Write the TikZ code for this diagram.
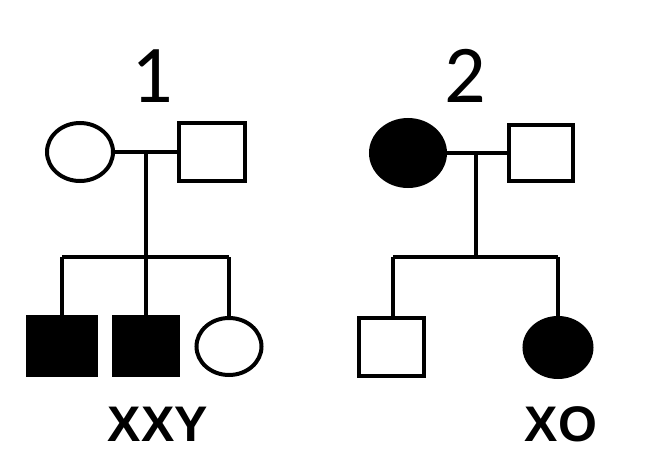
\documentclass[tikz,border=0pt]{standalone}
\usepackage{fontspec}
\setmainfont{Carlito}
\newfontfamily\karyfont{Liberation Sans}
\usetikzlibrary{shapes.geometric}
\begin{document}
\begin{tikzpicture}[x=1pt,y=-1pt,
  pline/.style={line width=4pt},
  male/.style={rectangle,draw,line width=4pt,inner sep=0pt,outer sep=0pt},
  female/.style={ellipse,draw,line width=4pt,inner sep=0pt,outer sep=0pt},
  aff/.style={fill=black},
  num/.style={font=\fontsize{82}{82}\selectfont,anchor=base,inner sep=0pt},
  kary/.style={font=\karyfont\fontsize{50}{50}\selectfont\bfseries,anchor=base,inner sep=0pt}]
\useasboundingbox[fill=white] (0,0) rectangle (649,474);
% pedigree 1
\node[num] (n1) at (152,102) {1};
\node[female,minimum width=66pt,minimum height=58pt] (m1) at (80,152) {};
\node[male,minimum width=66pt,minimum height=58pt] (f1) at (212,152) {};
\node[male,aff,minimum width=68pt,minimum height=58pt] (c1) at (62,346) {};
\node[male,aff,minimum width=64pt,minimum height=58pt] (c2) at (146,346) {};
\node[female,minimum width=65pt,minimum height=57pt] (c3) at (229,346.5) {};
\coordinate (j1) at (146,152);
\coordinate (s1) at (146,257);
\coordinate (l1) at (62,257);
\coordinate (r1) at (229,257);
\draw[pline] (m1.east) -- (f1.west);
\draw[pline] (j1) -- (s1);
\draw[pline] (l1) -- (r1);
\draw[pline] (l1) -- (c1.north);
\draw[pline] (s1) -- (c2.north);
\draw[pline] (r1) -- (c3.north);
\node[kary] (k1) at (158,441) {XXY};
% pedigree 2
\node[num] (n2) at (465,102) {2};
\node[female,aff,minimum width=74pt,minimum height=66pt] (m2) at (408,153) {};
\node[male,minimum width=64pt,minimum height=56pt] (f2) at (541,153) {};
\node[male,minimum width=65pt,minimum height=58pt] (c4) at (391.5,347) {};
\node[female,aff,minimum width=67pt,minimum height=59pt] (c5) at (558,347.5) {};
\coordinate (j2) at (476,153);
\coordinate (s2) at (476,257);
\coordinate (l2) at (393,257);
\coordinate (r2) at (558,257);
\draw[pline] (m2.east) -- (f2.west);
\draw[pline] (j2) -- (s2);
\draw[pline] (l2) -- (r2);
\draw[pline] (l2) -- (l2 |- c4.north);
\draw[pline] (r2) -- (c5.north);
\node[kary] (k2) at (561,441) {XO};
\end{tikzpicture}
\end{document}
